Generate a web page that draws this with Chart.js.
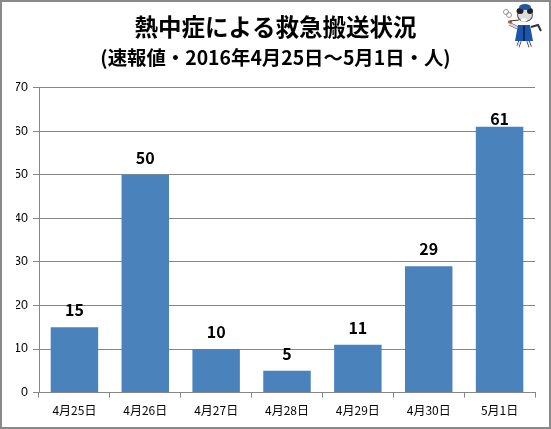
<!DOCTYPE html>
<html><head><meta charset="utf-8">
<style>html,body{margin:0;padding:0;background:#fff}#w{position:absolute;left:0;top:0;width:551px;height:429px}canvas{display:block}</style>
<script src="https://cdn.jsdelivr.net/npm/chart.js@4"></script></head>
<body><div id="w"><canvas id="c" width="551" height="429"></canvas></div>
<script>
const categories=["4月25日","4月26日","4月27日","4月28日","4月29日","4月30日","5月1日"];
const values=[15,50,10,5,11,29,61];
const titleText="熱中症による救急搬送状況";
const subtitleText="(速報値・2016年4月25日～5月1日・人)";
const FONT='"Noto Sans CJK JP","Liberation Sans",sans-serif';
const GRAY='#868686';
const decor={id:'decor',
 beforeDraw(ch){const g=ch.ctx;g.save();g.fillStyle='#fff';g.fillRect(0,0,551,429);g.strokeStyle='#8a8a8a';g.lineWidth=2;g.strokeRect(1,1,549,427);g.restore();},
 afterDraw(ch){const g=ch.ctx;g.save();
  g.translate(460,0);
  const el=(x,y,a,b,f,r=0)=>{g.fillStyle=f;g.beginPath();g.ellipse(x,y,a,b,r,0,7);g.fill();};
  const ln=(c,w,p)=>{g.strokeStyle=c;g.lineWidth=w;g.beginPath();g.moveTo(p[0],p[1]);for(let i=2;i<p.length;i+=2)g.lineTo(p[i],p[i+1]);g.stroke();};
  g.strokeStyle='#999';g.lineWidth=1;g.beginPath();g.arc(46,12,2.5,0,6.3);g.stroke();g.beginPath();g.arc(49,15,2.5,0,6.3);g.stroke();
  ln('#333',2,[71,27,78,25,81,31]);
  ln('#333',3.4,[60,41,57,49]);ln('#333',3.4,[68,41,71,49]);
  ln('#eee',1.8,[60,41,57,49]);ln('#eee',1.8,[68,41,71,49]);
  el(56,48,3.5,2.5,'#fff');el(72,49,4,2.5,'#fff');
  ln('#666',3.5,[58,28,50,24]);ln('#ddd',2,[58,28,50,24]);
  el(50,22,2.2,1.8,'#a8683c');ln('#553322',1,[50,21,59,20]);
  g.fillStyle='#1b55ad';g.beginPath();g.moveTo(58,25);g.lineTo(70,25);g.lineTo(73,41);g.lineTo(55,41);g.closePath();g.fill();
  g.fillStyle='#000';g.fillRect(63.5,26,1,15);
  el(65,15,8,7,'#555');el(65,15,7,6,'#dcdcdc');
  el(60,11,3.5,3,'#222');el(70,11,3,3,'#222');
  el(64,20,3,1.8,'#fff');
  el(65,7,6,3,'#24579f');
  g.restore();
 }};
const labels={id:'labels',afterDatasetsDraw(ch){const g=ch.ctx,m=ch.getDatasetMeta(0);g.save();g.font='bold 16px '+FONT;g.fillStyle='#000';g.textAlign='center';g.textBaseline='alphabetic';
 m.data.forEach((b,i)=>g.fillText(values[i],b.x,b.y-(values[i]>60?2:11)));g.restore();}};
new Chart(document.getElementById('c'),{type:'bar',
 data:{labels:categories,datasets:[{data:values,backgroundColor:'#4a82bc',borderWidth:0,categoryPercentage:1,barPercentage:0.67}]},
 plugins:[decor,labels],
 options:{responsive:false,animation:false,devicePixelRatio:1,
  layout:{padding:{left:16,right:16,top:0,bottom:5}},
  plugins:{legend:{display:false},tooltip:{enabled:false},
   title:{display:true,text:titleText,color:'#000',font:{family:FONT,size:23.5,weight:'bold'},padding:{top:13,bottom:0}},
   subtitle:{display:true,text:subtitleText,color:'#000',font:{family:FONT,size:19.4,weight:'bold'},padding:{top:5,bottom:18}}},
  scales:{
   x:{grid:{display:true,drawOnChartArea:false,drawTicks:true,tickLength:5,color:GRAY},border:{color:GRAY,width:1},
      ticks:{color:'#000',font:{family:FONT,size:12},maxRotation:0,autoSkip:false,padding:6}},
   y:{min:0,max:70,afterFit(s){s.width=23;},grid:{color:GRAY,lineWidth:1,tickLength:6},border:{color:GRAY,width:1},
      ticks:{stepSize:10,color:'#000',font:{family:'"Liberation Sans",sans-serif',size:12.5},padding:5}}
  }}});
</script></body></html>
